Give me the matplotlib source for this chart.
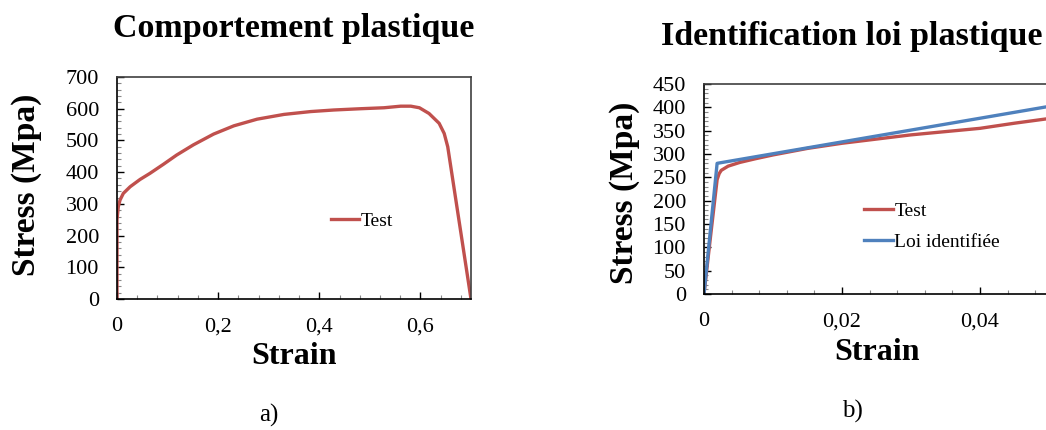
import matplotlib
matplotlib.use("Agg")
import matplotlib.pyplot as plt
from matplotlib.ticker import MultipleLocator, FuncFormatter

plt.rcParams['font.family'] = ['Liberation Serif', 'DejaVu Serif']

RED = "#C0504D"
BLUE = "#4F81BD"

# ── Data ───────────────────────────────────────────────────────────────────
# a) full tensile test
strain_a = [0.0, 0.0, 0.0026, 0.006, 0.0125, 0.026, 0.0456, 0.065, 0.092,
            0.118, 0.151, 0.191, 0.231, 0.277, 0.330, 0.383, 0.429, 0.482,
            0.528, 0.561, 0.581, 0.598, 0.617, 0.637, 0.647, 0.654, 0.700]
stress_a = [0, 250, 291, 312, 333, 354, 377, 396, 425,
            454, 486, 520, 546, 567, 582, 591, 596, 600,
            603, 608, 608, 603, 585, 554, 522, 480, 0]

# b) start of the curve, test vs identified law
strain_test_b = [0.0, 0.0010, 0.0019, 0.0022, 0.0025, 0.0035, 0.0052, 0.0075,
                 0.010, 0.015, 0.020, 0.025, 0.030, 0.035, 0.040, 0.045, 0.050]
stress_test_b = [0, 130, 245, 258, 265, 274, 282, 290,
                 298, 312, 323, 332, 341, 348, 355, 366, 376]

strain_law_b = [0.0, 0.0019, 0.0500]
stress_law_b = [0, 280, 402]


def comma_fmt(v, pos):
    if abs(v) < 1e-12:
        return "0"
    return ("%g" % v).replace(".", ",")


def style_axes(ax):
    ax.spines["left"].set_color("black")
    ax.spines["bottom"].set_color("black")
    ax.spines["top"].set_color("#404040")
    ax.spines["right"].set_color("#404040")
    for s in ax.spines.values():
        s.set_linewidth(1.2)
    ax.tick_params(which="both", direction="in", top=False, right=False,
                   labelsize=16)
    ax.tick_params(which="major", length=5, width=1)
    ax.tick_params(which="minor", length=3, width=0.8, color="#888888")
    ax.tick_params(axis="x", pad=13)
    ax.tick_params(axis="y", pad=13)


fig = plt.figure(figsize=(10.46, 4.30), dpi=100)

# ── a) ─────────────────────────────────────────────────────────────────────
ax1 = fig.add_axes([117 / 1046, 1 - 299 / 430, 354 / 1046, 222 / 430])
ax1.plot(strain_a, stress_a, color=RED, lw=2.4, label="Test")
ax1.set_xlim(0, 0.7)
ax1.set_ylim(0, 700)
ax1.xaxis.set_major_locator(MultipleLocator(0.2))
ax1.xaxis.set_minor_locator(MultipleLocator(0.04))
ax1.yaxis.set_major_locator(MultipleLocator(100))
ax1.yaxis.set_minor_locator(MultipleLocator(20))
ax1.xaxis.set_major_formatter(FuncFormatter(comma_fmt))
style_axes(ax1)
ax1.legend(loc="center left", bbox_to_anchor=(0.555, 0.35), frameon=False,
           fontsize=14, handlelength=1.45, handletextpad=0.1)

fig.text(294 / 1046, 1 - 28 / 430, "Comportement plastique", ha="center",
         va="center", fontsize=24.5, fontweight="bold")
fig.text(294 / 1046, 1 - 357 / 430, "Strain", ha="center", va="center",
         fontsize=23, fontweight="bold")
fig.text(27 / 1046, 1 - 185 / 430, "Stress (Mpa)", ha="center", va="center",
         rotation=90, fontsize=24, fontweight="bold")
fig.text(269 / 1046, 1 - 415 / 430, "a)", ha="center", va="center",
         fontsize=18)

# ── b) ─────────────────────────────────────────────────────────────────────
ax2 = fig.add_axes([704 / 1046, 1 - 294 / 430, 414 / 1046, 210 / 430])
ax2.plot(strain_test_b, stress_test_b, color=RED, lw=2.4, label="Test")
ax2.plot(strain_law_b, stress_law_b, color=BLUE, lw=2.4,
         label="Loi identifiée")
ax2.set_xlim(0, 0.06)
ax2.set_ylim(0, 450)
ax2.xaxis.set_major_locator(MultipleLocator(0.02))
ax2.xaxis.set_minor_locator(MultipleLocator(0.004))
ax2.yaxis.set_major_locator(MultipleLocator(50))
ax2.yaxis.set_minor_locator(MultipleLocator(10))
# the panel runs past the right edge of the picture: no label beyond 0,04
ax2.xaxis.set_major_formatter(
    FuncFormatter(lambda v, pos: comma_fmt(v, pos) if v < 0.05 else ""))
style_axes(ax2)
ax2.legend(loc="center left", bbox_to_anchor=(0.345, 0.32), frameon=False,
           fontsize=14, handlelength=1.45, handletextpad=0.1,
           labelspacing=0.7)

fig.text(852 / 1046, 1 - 37 / 430, "Identification loi plastique",
         ha="center", va="center", fontsize=24.5, fontweight="bold")
fig.text(877 / 1046, 1 - 352 / 430, "Strain", ha="center", va="center",
         fontsize=23, fontweight="bold")
fig.text(625 / 1046, 1 - 193 / 430, "Stress (Mpa)", ha="center", va="center",
         rotation=90, fontsize=24, fontweight="bold")
fig.text(852 / 1046, 1 - 411 / 430, "b)", ha="center", va="center",
         fontsize=18)

fig.savefig("out.png", dpi=100)
